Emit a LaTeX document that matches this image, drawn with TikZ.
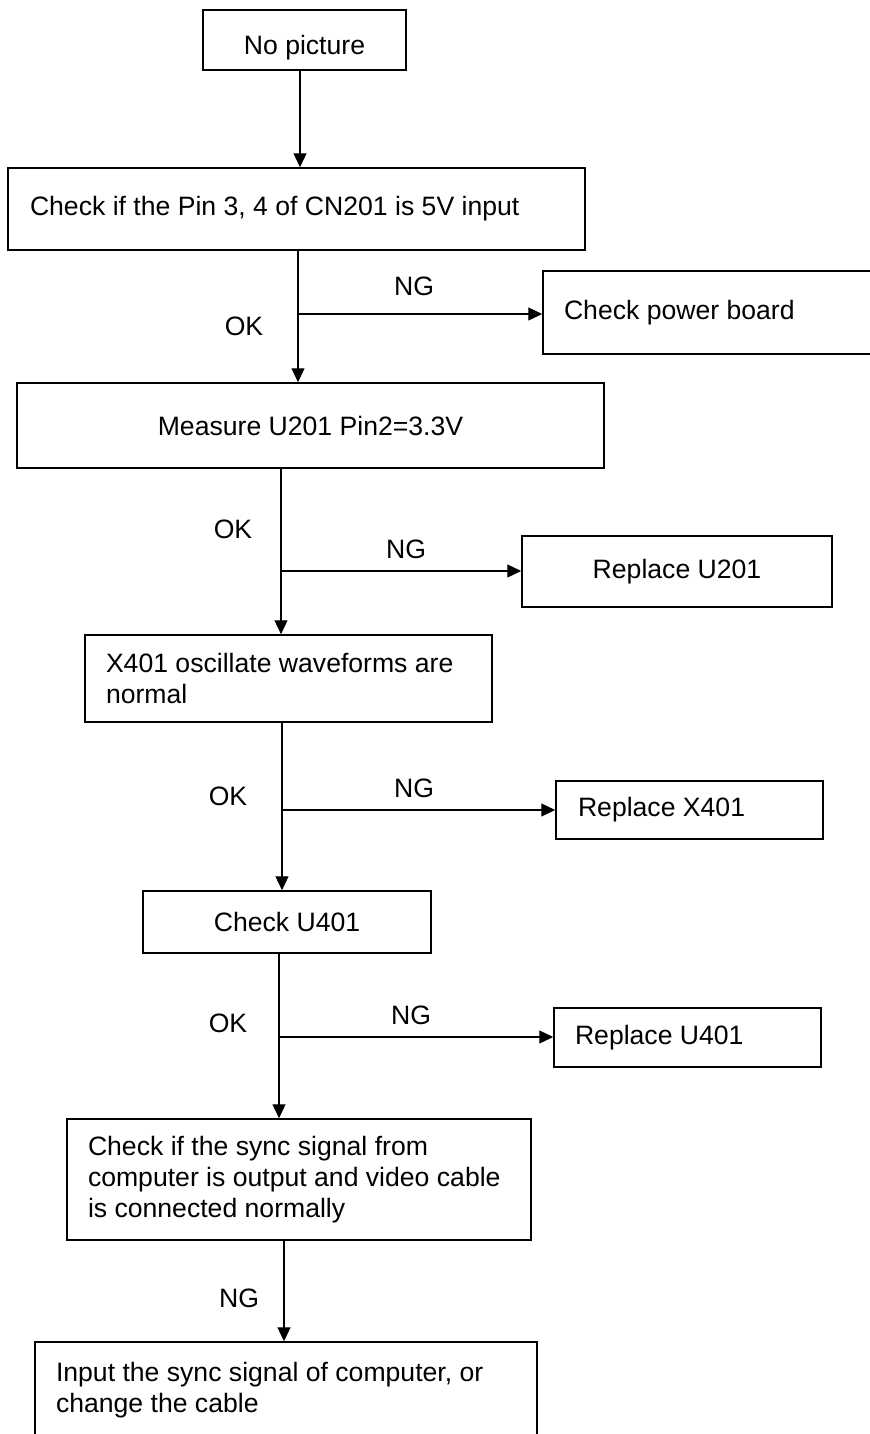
\documentclass[tikz,border=0pt]{standalone}
\usepackage{fontspec}
\setmainfont{Liberation Sans}
\usetikzlibrary{arrows.meta}

\begin{document}
\begin{tikzpicture}[x=0.5pt,y=-0.5pt,
  box/.style={draw,line width=0.75pt,inner sep=0pt,font=\fontsize{13.3}{15.5}\selectfont},
  lbox/.style={box,align=flush left,inner xsep=10.5pt},
  lab/.style={font=\fontsize{13.3}{15.5}\selectfont},
  arr/.style={line width=0.6pt,-{Triangle[length=7pt,width=6.5pt]}}]
\useasboundingbox (0,0) rectangle (870,1434);
\clip (0,0) rectangle (870,1434);

\node[box,minimum width=101.5pt,minimum height=30pt,text height=17.5pt] (nopic) at (304.5,40)
{No picture};
\node[lbox,inner xsep=11pt,text width=266.5pt,minimum height=41pt] (chk5v) at (296.5,209)
{Check if the Pin 3, 4 of CN201 is 5V input};
\node[lbox,text width=150pt,minimum height=41.5pt] (pwr) at (714,312.5)
{Check power board};
\node[box,minimum width=293.5pt,minimum height=42.5pt] (meas) at (310.5,425.5)
{Measure U201 Pin2=3.3V};
\node[box,minimum width=155pt,minimum height=35.5pt] (u201) at (677,571.5)
{Replace U201};
\node[lbox,text width=182.5pt,minimum height=43.5pt] (osc) at (288.5,678.5)
{X401 oscillate waveforms are\\normal};
\node[lbox,inner xsep=11pt,text width=111.5pt,minimum height=29pt] (x401) at (689.5,810)
{Replace X401};
\node[box,minimum width=144pt,minimum height=31pt] (chku) at (287,922)
{Check U401};
\node[lbox,text width=112.5pt,minimum height=29.5pt] (u401) at (687.5,1037.5)
{Replace U401};
\node[lbox,text width=211pt,minimum height=60.5pt] (sync) at (299,1179.5)
{Check if the sync signal from\\computer is output and video cable\\is connected normally};
\node[lbox,text width=230pt,minimum height=48pt] (inp) at (286,1390)
{Input the sync signal of computer, or\\change the cable};

\coordinate (a0) at (300,120);
\coordinate (b1) at (298,314);
\coordinate (b2) at (281,571);
\coordinate (b3) at (282,810);
\coordinate (b4) at (279,1037);
\coordinate (b5) at (284,1290);

\draw[arr] (nopic.south -| a0) -- (chk5v.north -| a0);
\draw[arr] (chk5v.south -| b1) -- (meas.north -| b1);
\draw[arr] (b1) -- (b1 -| pwr.west);
\draw[arr] (meas.south -| b2) -- (osc.north -| b2);
\draw[arr] (b2) -- (b2 -| u201.west);
\draw[arr] (osc.south -| b3) -- (chku.north -| b3);
\draw[arr] (b3) -- (b3 -| x401.west);
\draw[arr] (chku.south -| b4) -- (sync.north -| b4);
\draw[arr] (b4) -- (b4 -| u401.west);
\draw[arr] (sync.south -| b5) -- (inp.north -| b5);

\node[lab] (ok1) at (244,326) {OK};
\node[lab] (ng1) at (414,286) {NG};
\node[lab] (ok2) at (233,529) {OK};
\node[lab] (ng2) at (406,549) {NG};
\node[lab] (ok3) at (228,796) {OK};
\node[lab] (ng3) at (414,788) {NG};
\node[lab] (ok4) at (228,1023) {OK};
\node[lab] (ng4) at (411,1015) {NG};
\node[lab] (ng5) at (239,1298) {NG};
\end{tikzpicture}
\end{document}
